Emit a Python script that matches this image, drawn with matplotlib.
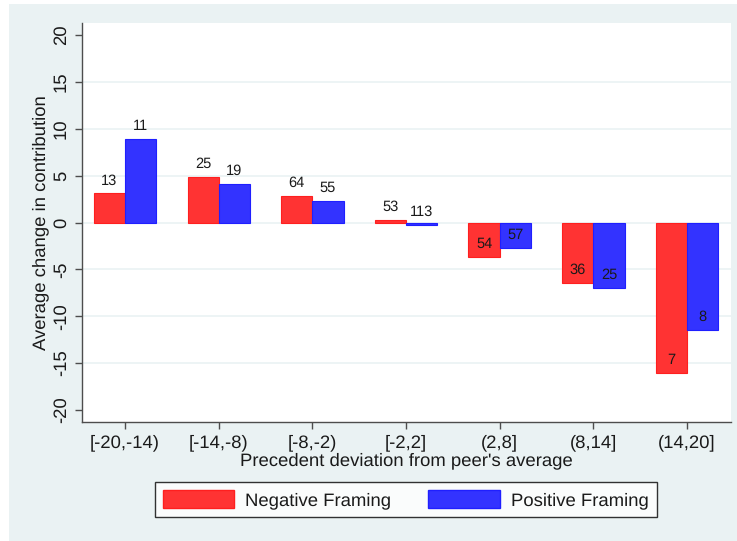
import matplotlib
matplotlib.use("Agg")
import matplotlib.pyplot as plt
from matplotlib.patches import Rectangle, Patch
import numpy as np

plt.rcParams['font.family'] = ['Liberation Sans', 'DejaVu Sans']
plt.rcParams['text.hinting'] = 'no_hinting'

# Deviation bins and mean change in contribution per framing condition
categories = ["[-20,-14)", "[-14,-8)", "[-8,-2)", "[-2,2]", "(2,8]", "(8,14]", "(14,20]"]
negative_framing = [3.1, 4.85, 2.85, 0.3, -3.65, -6.45, -16.1]
positive_framing = [8.95, 4.15, 2.3, -0.3, -2.75, -6.95, -11.5]
# Number of observations per bar
negative_n = [13, 25, 64, 53, 54, 36, 7]
positive_n = [11, 19, 55, 113, 57, 25, 8]
y_ticks = [-20, -15, -10, -5, 0, 5, 10, 15, 20]

bg = "#EAF2F3"
red_fill, red_edge = "#FF3333", "#FF1F1F"
blue_fill, blue_edge = "#3333FF", "#1F1FFF"
axis_col = "#4D4D4D"
fs = 13.3

W, H = 737, 541
fig = plt.figure(figsize=(W / 100, H / 100), dpi=100, facecolor="white")
fig.patches.append(Rectangle((9 / W, 0), 1 - 9 / W, 1 - 4 / H, transform=fig.transFigure,
                             facecolor=bg, edgecolor="none", zorder=-10))

ax = fig.add_axes([82 / W, 1 - 422 / H, (731 - 82) / W, (422 - 23) / H])
ax.set_facecolor("white")

x = np.arange(len(categories))
w = 1 / 3
ax.bar(x - w / 2, negative_framing, width=w, color=red_fill, edgecolor=red_edge,
       linewidth=0.8, zorder=3)
ax.bar(x + w / 2, positive_framing, width=w, color=blue_fill, edgecolor=blue_edge,
       linewidth=0.8, zorder=3)

for xi, v, n in zip(x - w / 2, negative_framing, negative_n):
    ax.annotate(str(n), (xi, v), xytext=(0, 9.3), textcoords="offset points",
                ha="center", va="center", fontsize=10.5, color="#1a1a1a", zorder=4)
for xi, v, n in zip(x + w / 2, positive_framing, positive_n):
    ax.annotate(str(n), (xi, v), xytext=(0, 9.3), textcoords="offset points",
                ha="center", va="center", fontsize=10.5, color="#1a1a1a", zorder=4)

ax.set_xlim(-0.46, len(categories) - 1 + 0.47)
ax.set_ylim(-21.29, 21.29)
ax.set_yticks(y_ticks)
ax.set_yticklabels([str(t) for t in y_ticks], rotation=90, va="center", fontsize=fs)
ax.set_xticks(x)
ax.set_xticklabels(categories, fontsize=fs)

for t in y_ticks[1:-1]:
    ax.axhline(t, color=bg, linewidth=1.2, zorder=1)

for s in ["top", "right"]:
    ax.spines[s].set_visible(False)
for s in ["left", "bottom"]:
    ax.spines[s].set_color(axis_col)
    ax.spines[s].set_linewidth(1.0)
ax.tick_params(axis="both", direction="out", length=5, width=1.0, color=axis_col,
               labelcolor="#1a1a1a", pad=4)

ax.set_ylabel("Average change in contribution", fontsize=fs, color="#1a1a1a", labelpad=3)
ax.set_xlabel("Precedent deviation from peer's average", fontsize=fs, color="#1a1a1a",
              labelpad=1)

handles = [Patch(facecolor=red_fill, edgecolor=red_edge, label="Negative Framing"),
           Patch(facecolor=blue_fill, edgecolor=blue_edge, label="Positive Framing")]
leg = fig.legend(handles=handles, loc="center", bbox_to_anchor=(405.8 / W, 1 - 499.8 / H),
                 ncol=2, fontsize=fs, frameon=True, fancybox=False, handlelength=3.85,
                 handleheight=1.05, handletextpad=0.6, columnspacing=2.0,
                 borderpad=0.45, borderaxespad=0)
leg.get_frame().set_edgecolor("black")
leg.get_frame().set_linewidth(1.0)
leg.get_frame().set_facecolor("white")
for t in leg.get_texts():
    t.set_color("#1a1a1a")

fig.savefig("out.png", dpi=100, facecolor="white")
